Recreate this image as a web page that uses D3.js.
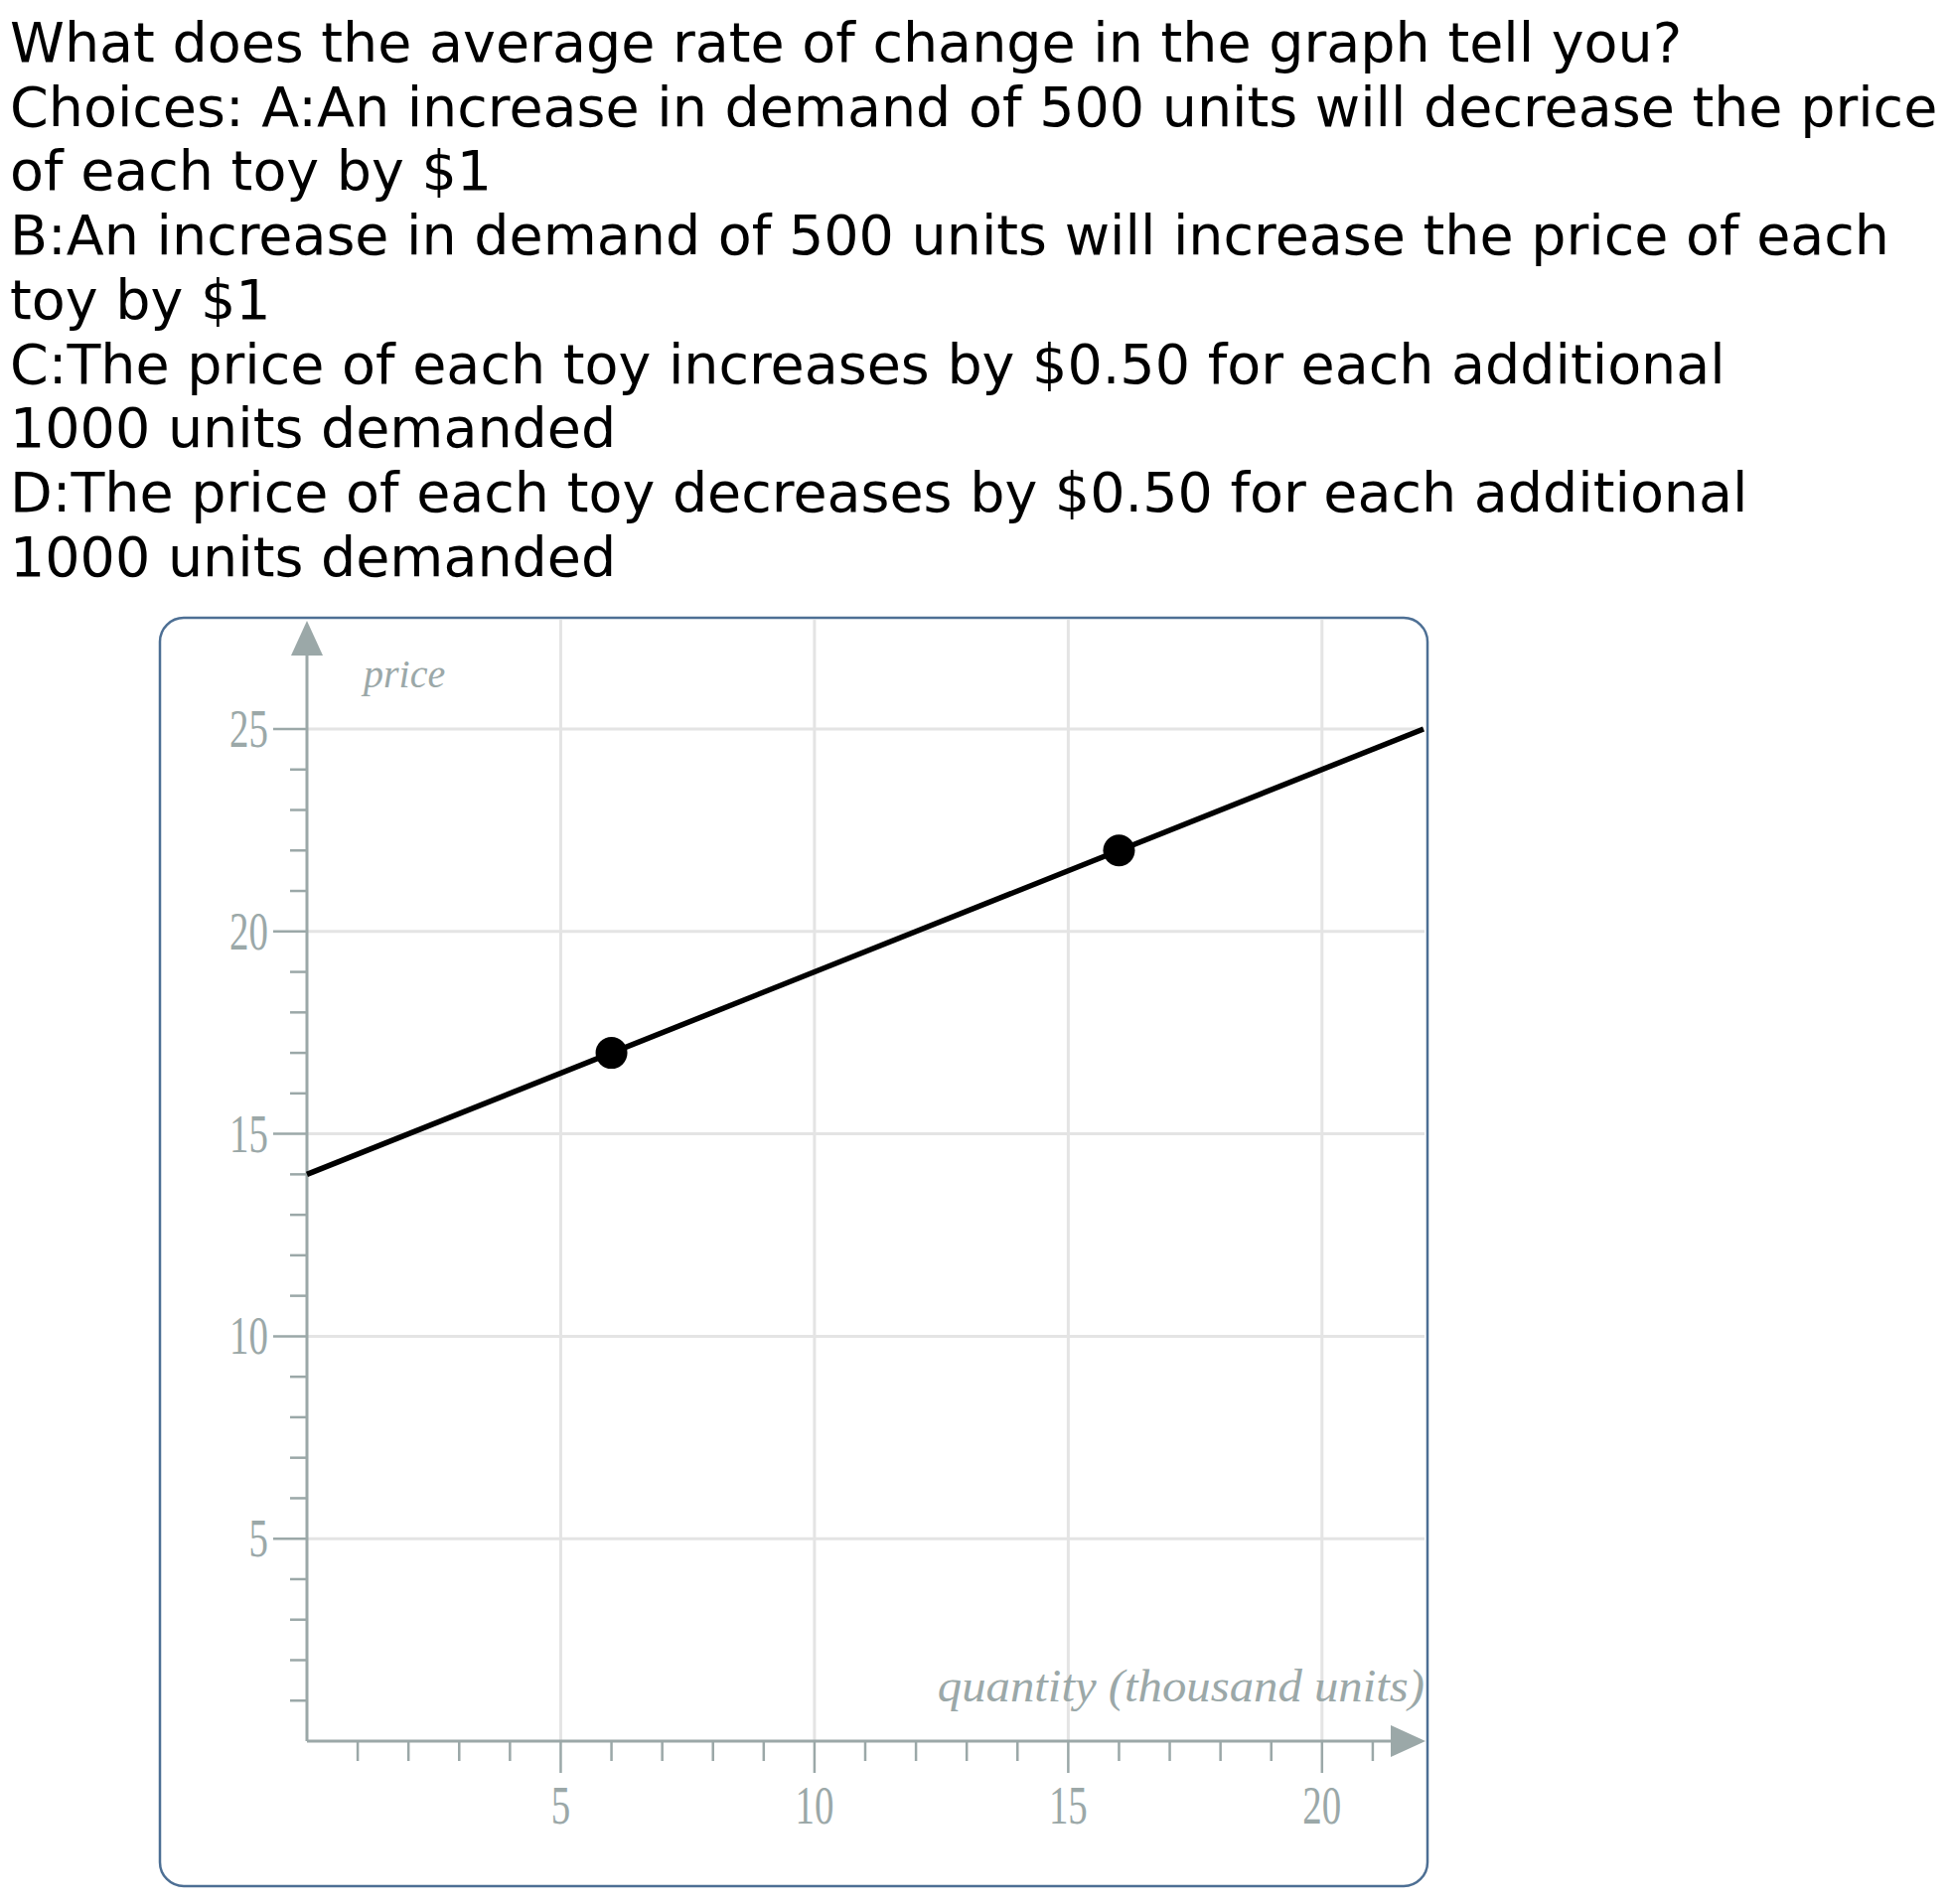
<!DOCTYPE html>
<html><head><meta charset="utf-8">
<script src="https://cdn.jsdelivr.net/npm/d3@7"></script>
<style>body{margin:0;background:#fff}</style>
</head><body>
<script>
// question text lines
var lines = [
  "What does the average rate of change in the graph tell you?",
  "Choices: A:An increase in demand of 500 units will decrease the price",
  "of each toy by $1",
  "B:An increase in demand of 500 units will increase the price of each",
  "toy by $1",
  "C:The price of each toy increases by $0.50 for each additional",
  "1000 units demanded",
  "D:The price of each toy decreases by $0.50 for each additional",
  "1000 units demanded"
];
var xTicks = [5, 10, 15, 20];
var yTicks = [5, 10, 15, 20, 25];
var lineX = [0, 22], lineY = [14, 25];
var pointsX = [6, 16], pointsY = [17, 22];

var svg = d3.select('body').append('svg').attr('width', 1963).attr('height', 1917);

svg.selectAll('.q').data(lines).enter().append('text')
  .attr('x', 10).attr('y', function(d, i){ return 62 + i * 64.7; })
  .attr('font-family', 'DejaVu Sans').attr('font-size', 55.5).attr('fill', '#000')
  .text(function(d){ return d; });

// frame
svg.append('rect').attr('x', 161).attr('y', 622).attr('width', 1276).attr('height', 1277)
  .attr('rx', 24).attr('fill', 'none').attr('stroke', '#4d6f94').attr('stroke-width', 2.5);

var x = d3.scaleLinear().domain([0, 22]).range([309, 1433]);
var y = d3.scaleLinear().domain([0, 25]).range([1753, 734]);
var axisCol = '#9ba8a8';

// grid
svg.selectAll('.gx').data(xTicks).enter().append('line')
  .attr('x1', x).attr('x2', x).attr('y1', 624).attr('y2', 1753)
  .attr('stroke', '#e4e4e4').attr('stroke-width', 3);
svg.selectAll('.gy').data(yTicks).enter().append('line')
  .attr('y1', y).attr('y2', y).attr('x1', 309).attr('x2', 1434)
  .attr('stroke', '#e4e4e4').attr('stroke-width', 3);

// minor ticks
svg.selectAll('.mx').data(d3.range(1, 22)).enter().append('line')
  .attr('x1', x).attr('x2', x).attr('y1', 1753)
  .attr('y2', function(d){ return d % 5 ? 1773 : 1785; })
  .attr('stroke', axisCol).attr('stroke-width', 2.5);
svg.selectAll('.my').data(d3.range(1, 26)).enter().append('line')
  .attr('y1', y).attr('y2', y).attr('x2', 309)
  .attr('x1', function(d){ return d % 5 ? 292 : 275; })
  .attr('stroke', axisCol).attr('stroke-width', 2.5);

// axes with arrows
svg.append('line').attr('x1', 309).attr('x2', 1410).attr('y1', 1753).attr('y2', 1753)
  .attr('stroke', axisCol).attr('stroke-width', 3);
svg.append('line').attr('x1', 309).attr('x2', 309).attr('y1', 650).attr('y2', 1753)
  .attr('stroke', axisCol).attr('stroke-width', 3);
svg.append('path').attr('d', 'M1435,1753 L1400,1737 L1400,1769 Z').attr('fill', axisCol);
svg.append('path').attr('d', 'M309,625 L293,660 L325,660 Z').attr('fill', axisCol);

// tick labels
svg.selectAll('.lx').data(xTicks).enter().append('text')
  .attr('x', x).attr('y', 1836).attr('text-anchor', 'middle')
  .attr('font-family', 'Liberation Serif').attr('font-size', 54).attr('fill', axisCol)
  .attr('transform', function(d){ return 'translate(' + x(d) + ',0) scale(0.72,1) translate(' + (-x(d)) + ',0)'; })
  .text(function(d){ return d; });
svg.selectAll('.ly').data(yTicks).enter().append('text')
  .attr('x', 270).attr('y', function(d){ return y(d) + 18; }).attr('text-anchor', 'end')
  .attr('font-family', 'Liberation Serif').attr('font-size', 54).attr('fill', axisCol)
  .attr('transform', 'translate(270,0) scale(0.72,1) translate(-270,0)')
  .text(function(d){ return d; });

svg.append('text').attr('x', 366).attr('y', 692)
  .attr('font-family', 'Liberation Serif').attr('font-style', 'italic')
  .attr('font-size', 40).attr('fill', axisCol).text('price');
svg.append('text').attr('x', 1434).attr('y', 1713).attr('text-anchor', 'end')
  .attr('font-family', 'Liberation Serif').attr('font-style', 'italic')
  .attr('font-size', 46).attr('fill', axisCol)
  .attr('transform', 'translate(1434,0) scale(1.06,1) translate(-1434,0)')
  .text('quantity (thousand units)');

// data line and points
svg.append('line').attr('x1', x(lineX[0])).attr('y1', y(lineY[0]))
  .attr('x2', x(lineX[1])).attr('y2', y(lineY[1]))
  .attr('stroke', '#000').attr('stroke-width', 5.5);
svg.selectAll('.pt').data(pointsX).enter().append('circle')
  .attr('cx', x).attr('cy', function(d, i){ return y(pointsY[i]); })
  .attr('r', 16).attr('fill', '#000');
</script>
</body></html>
